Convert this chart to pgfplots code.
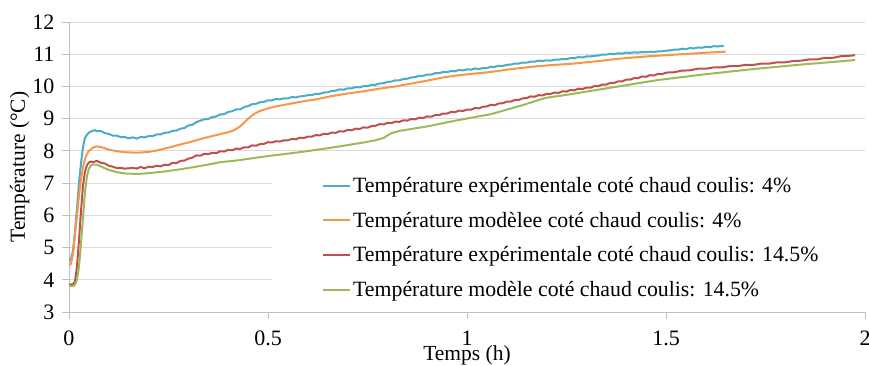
\documentclass[border=0pt]{standalone}
\usepackage{pgfplots}
\pgfplotsset{compat=1.18}
\usepackage{fontspec}
\setmainfont{Liberation Serif}
\definecolor{cblue}{HTML}{4BACC6}
\definecolor{corange}{HTML}{F79646}
\definecolor{cred}{HTML}{C0504D}
\definecolor{cgreen}{HTML}{9BBB59}
\definecolor{cgrid}{HTML}{D9D9D9}
\definecolor{caxis}{HTML}{BFBFBF}
\begin{document}
\begin{tikzpicture}
\begin{axis}[
  at={(69pt,53pt)}, anchor=south west,
  width=796pt, height=290pt, scale only axis,
  xmin=0, xmax=2, ymin=3, ymax=12,
  xtick={0,0.5,1,1.5,2}, ytick={3,4,...,12},
  axis x line=bottom, axis y line=left,
  axis line style={draw=caxis, line width=0.8pt, -},
  ymajorgrids, grid style={cgrid, line width=0.8pt},
  major tick length=7pt,
  tick align=outside,
  tick style={caxis, line width=0.8pt},
  /pgf/number format/assume math mode=true,
  tick label style={font=\fontsize{22}{25}\selectfont},
  xticklabel style={yshift=-8pt},
  yticklabel style={xshift=-4pt},
  xlabel={Temps (h)},
  ylabel={Température (°C)},
  label style={font=\fontsize{21.5}{24}\selectfont},
  xlabel style={at={(axis description cs:0.5,0)}, anchor=center, yshift=-43pt},
  ylabel style={at={(axis description cs:-0.062,0.5)}, anchor=center, rotate=0},
  legend cell align=left,
  legend style={at={(axis cs:0.51,7.5)}, anchor=north west, fill=white, draw=none,
    font=\fontsize{21.8}{24}\selectfont, inner xsep=50pt, inner ysep=8pt,
    row sep=14pt, nodes={inner sep=2pt}},
  legend image code/.code={\draw[#1, line width=2pt] (0pt,0pt) -- (27pt,0pt);},
  every axis plot/.append style={line width=2pt},
]
\addplot[cblue, no marks] coordinates {
(0,4.6)(0.005,4.65)(0.01,4.9)(0.015,5.5)(0.02,6.2)(0.025,7.0)(0.03,7.6)(0.035,8.1)(0.04,8.4)(0.045,8.5)
(0.05,8.57)(0.055,8.6)(0.06,8.63)(0.065,8.64)(0.07,8.61)(0.08,8.62)(0.09,8.55)(0.10,8.53)(0.11,8.47)(0.12,8.47)
(0.13,8.43)(0.14,8.43)(0.15,8.39)(0.16,8.42)(0.17,8.38)(0.18,8.43)(0.19,8.42)(0.20,8.46)(0.21,8.46)(0.22,8.51)
(0.23,8.51)(0.24,8.56)(0.25,8.57)(0.26,8.62)(0.27,8.63)(0.28,8.69)(0.29,8.71)(0.30,8.79)(0.31,8.81)(0.32,8.89)
(0.33,8.94)(0.34,8.98)(0.35,8.99)(0.36,9.05)(0.37,9.07)(0.38,9.13)(0.39,9.14)(0.40,9.21)(0.41,9.23)(0.42,9.29)
(0.43,9.29)(0.44,9.36)(0.45,9.39)(0.46,9.45)(0.47,9.46)(0.48,9.51)(0.49,9.52)(0.50,9.57)(0.51,9.57)(0.52,9.61)
(0.53,9.6)(0.54,9.63)(0.55,9.63)(0.56,9.67)(0.57,9.66)(0.58,9.69)(0.59,9.7)(0.60,9.73)(0.61,9.73)(0.62,9.77)
(0.63,9.77)(0.64,9.81)(0.65,9.82)(0.66,9.86)(0.67,9.87)(0.68,9.91)(0.69,9.9)(0.70,9.94)(0.71,9.94)(0.72,9.98)
(0.73,9.97)(0.74,10.01)(0.75,10.01)(0.76,10.05)(0.77,10.05)(0.78,10.09)(0.79,10.1)(0.80,10.14)(0.81,10.15)(0.82,10.19)
(0.83,10.19)(0.84,10.23)(0.85,10.24)(0.86,10.28)(0.87,10.29)(0.88,10.33)(0.89,10.33)(0.90,10.37)(0.91,10.37)(0.92,10.41)
(0.93,10.41)(0.94,10.45)(0.95,10.44)(0.96,10.48)(0.97,10.47)(0.98,10.51)(0.99,10.5)(1.00,10.53)(1.01,10.52)(1.02,10.56)
(1.03,10.54)(1.04,10.57)(1.05,10.57)(1.06,10.61)(1.07,10.61)(1.08,10.64)(1.09,10.64)(1.10,10.67)(1.11,10.68)(1.12,10.71)
(1.13,10.71)(1.14,10.74)(1.15,10.74)(1.16,10.77)(1.17,10.77)(1.18,10.8)(1.19,10.79)(1.20,10.81)(1.21,10.8)(1.22,10.83)
(1.23,10.83)(1.24,10.85)(1.25,10.85)(1.26,10.88)(1.27,10.88)(1.28,10.91)(1.29,10.9)(1.30,10.93)(1.31,10.93)(1.32,10.95)
(1.33,10.96)(1.34,10.99)(1.35,10.99)(1.36,11.01)(1.37,11.0)(1.38,11.03)(1.39,11.02)(1.40,11.05)(1.41,11.04)(1.42,11.06)
(1.43,11.05)(1.44,11.07)(1.45,11.06)(1.46,11.08)(1.47,11.07)(1.48,11.09)(1.49,11.09)(1.50,11.11)(1.51,11.12)(1.52,11.14)
(1.53,11.14)(1.54,11.17)(1.55,11.16)(1.56,11.19)(1.57,11.18)(1.58,11.21)(1.59,11.2)(1.60,11.23)(1.61,11.22)(1.62,11.25)
(1.63,11.24)(1.64,11.26)(1.645,11.24)
};
\addlegendentry{Température expérimentale coté chaud coulis: 4\%}
\addplot[corange, no marks] coordinates {
(0,4.45)(0.005,4.5)(0.01,4.8)(0.015,5.4)(0.02,6.0)(0.025,6.6)(0.03,7.1)(0.035,7.5)(0.04,7.75)(0.045,7.9)
(0.05,8.0)(0.06,8.1)(0.07,8.14)(0.08,8.12)(0.09,8.08)(0.10,8.04)(0.12,7.99)(0.14,7.96)(0.16,7.95)(0.18,7.95)
(0.20,7.97)(0.22,8.01)(0.24,8.07)(0.26,8.13)(0.28,8.2)(0.30,8.26)(0.32,8.33)(0.34,8.4)(0.36,8.46)(0.38,8.52)
(0.40,8.58)(0.41,8.62)(0.42,8.68)(0.43,8.76)(0.44,8.88)(0.45,9.0)(0.46,9.1)(0.47,9.18)(0.48,9.24)(0.50,9.32)
(0.52,9.38)(0.55,9.45)(0.58,9.52)(0.62,9.6)(0.66,9.7)(0.70,9.78)(0.74,9.85)(0.78,9.93)(0.82,10.0)(0.86,10.09)
(0.90,10.18)(0.94,10.28)(0.98,10.35)(1.02,10.4)(1.06,10.45)(1.10,10.52)(1.14,10.58)(1.18,10.63)(1.22,10.67)(1.26,10.7)
(1.30,10.75)(1.34,10.8)(1.38,10.86)(1.42,10.9)(1.46,10.94)(1.50,10.97)(1.54,11.0)(1.58,11.03)(1.62,11.06)(1.65,11.08)
};
\addlegendentry{Température modèlee coté chaud coulis: 4\%}
\addplot[cred, no marks] coordinates {
(0,3.85)(0.01,3.86)(0.015,3.95)(0.02,4.4)(0.025,5.2)(0.03,6.1)(0.035,6.9)(0.04,7.35)(0.045,7.55)(0.05,7.64)
(0.055,7.67)(0.06,7.65)(0.07,7.69)(0.08,7.63)(0.09,7.61)(0.10,7.54)(0.11,7.51)(0.12,7.47)(0.13,7.47)(0.14,7.45)
(0.15,7.46)(0.16,7.47)(0.17,7.45)(0.18,7.5)(0.19,7.46)(0.20,7.51)(0.21,7.5)(0.22,7.54)(0.23,7.52)(0.24,7.57)
(0.25,7.56)(0.26,7.63)(0.27,7.62)(0.28,7.69)(0.29,7.7)(0.30,7.76)(0.31,7.79)(0.32,7.86)(0.33,7.85)(0.34,7.91)
(0.35,7.9)(0.36,7.94)(0.37,7.93)(0.38,7.99)(0.39,7.98)(0.40,8.03)(0.41,8.02)(0.42,8.07)(0.43,8.06)(0.44,8.11)
(0.45,8.11)(0.46,8.17)(0.47,8.16)(0.48,8.21)(0.49,8.22)(0.50,8.27)(0.51,8.26)(0.52,8.3)(0.53,8.29)(0.54,8.33)
(0.55,8.33)(0.56,8.37)(0.57,8.36)(0.58,8.41)(0.59,8.4)(0.60,8.44)(0.61,8.44)(0.62,8.49)(0.63,8.48)(0.64,8.53)
(0.65,8.52)(0.66,8.57)(0.67,8.56)(0.68,8.61)(0.69,8.6)(0.70,8.65)(0.71,8.64)(0.72,8.69)(0.73,8.68)(0.74,8.73)
(0.75,8.72)(0.76,8.77)(0.77,8.78)(0.78,8.83)(0.79,8.82)(0.80,8.87)(0.81,8.86)(0.82,8.91)(0.83,8.9)(0.84,8.95)
(0.85,8.94)(0.86,8.99)(0.87,8.98)(0.88,9.03)(0.89,9.02)(0.90,9.07)(0.91,9.06)(0.92,9.11)(0.93,9.11)(0.94,9.16)
(0.95,9.16)(0.96,9.21)(0.97,9.2)(0.98,9.25)(0.99,9.24)(1.00,9.28)(1.01,9.28)(1.02,9.33)(1.03,9.32)(1.04,9.37)
(1.05,9.38)(1.06,9.43)(1.07,9.42)(1.08,9.47)(1.09,9.48)(1.10,9.53)(1.11,9.53)(1.12,9.58)(1.13,9.58)(1.14,9.63)
(1.15,9.64)(1.16,9.69)(1.17,9.68)(1.18,9.73)(1.19,9.72)(1.20,9.77)(1.21,9.77)(1.22,9.81)(1.23,9.8)(1.24,9.85)
(1.25,9.84)(1.26,9.89)(1.27,9.88)(1.28,9.93)(1.29,9.92)(1.30,9.96)(1.31,9.96)(1.32,10.01)(1.33,10.01)(1.34,10.06)
(1.35,10.06)(1.36,10.11)(1.37,10.11)(1.38,10.16)(1.39,10.16)(1.40,10.21)(1.41,10.21)(1.42,10.26)(1.43,10.26)(1.44,10.31)
(1.45,10.3)(1.46,10.35)(1.47,10.34)(1.48,10.39)(1.49,10.38)(1.50,10.43)(1.52,10.44)(1.54,10.49)(1.56,10.5)(1.58,10.55)
(1.60,10.55)(1.62,10.59)(1.64,10.59)(1.66,10.63)(1.68,10.63)(1.70,10.67)(1.72,10.67)(1.74,10.71)(1.76,10.71)(1.78,10.75)
(1.80,10.75)(1.82,10.79)(1.84,10.8)(1.86,10.84)(1.88,10.84)(1.90,10.89)(1.92,10.89)(1.94,10.94)(1.96,10.95)(1.975,10.97)
};
\addlegendentry{Température expérimentale coté chaud coulis: 14.5\%}
\addplot[cgreen, no marks] coordinates {
(0,3.8)(0.01,3.8)(0.015,3.85)(0.02,4.0)(0.025,4.4)(0.03,5.1)(0.035,5.9)(0.04,6.7)(0.045,7.2)(0.05,7.45)
(0.055,7.55)(0.06,7.58)(0.07,7.57)(0.08,7.52)(0.09,7.46)(0.10,7.41)(0.12,7.34)(0.14,7.3)(0.16,7.29)(0.18,7.29)
(0.20,7.31)(0.24,7.36)(0.28,7.43)(0.32,7.51)(0.36,7.6)(0.38,7.65)(0.42,7.7)(0.46,7.77)(0.50,7.84)(0.54,7.9)
(0.58,7.96)(0.62,8.03)(0.66,8.1)(0.70,8.18)(0.74,8.26)(0.77,8.33)(0.79,8.4)(0.81,8.55)(0.83,8.62)(0.86,8.68)
(0.90,8.76)(0.94,8.86)(0.98,8.96)(1.02,9.05)(1.06,9.14)(1.10,9.28)(1.14,9.42)(1.18,9.58)(1.20,9.65)(1.24,9.72)
(1.28,9.8)(1.32,9.88)(1.36,9.96)(1.40,10.04)(1.44,10.12)(1.48,10.2)(1.52,10.26)(1.56,10.32)(1.60,10.38)(1.66,10.46)
(1.72,10.54)(1.78,10.61)(1.84,10.68)(1.90,10.74)(1.975,10.82)
};
\addlegendentry{Température modèle coté chaud coulis: 14.5\%}
\end{axis}
\pgfresetboundingbox
\path[use as bounding box] (0,0) rectangle (869pt,365pt);
\end{tikzpicture}
\end{document}
